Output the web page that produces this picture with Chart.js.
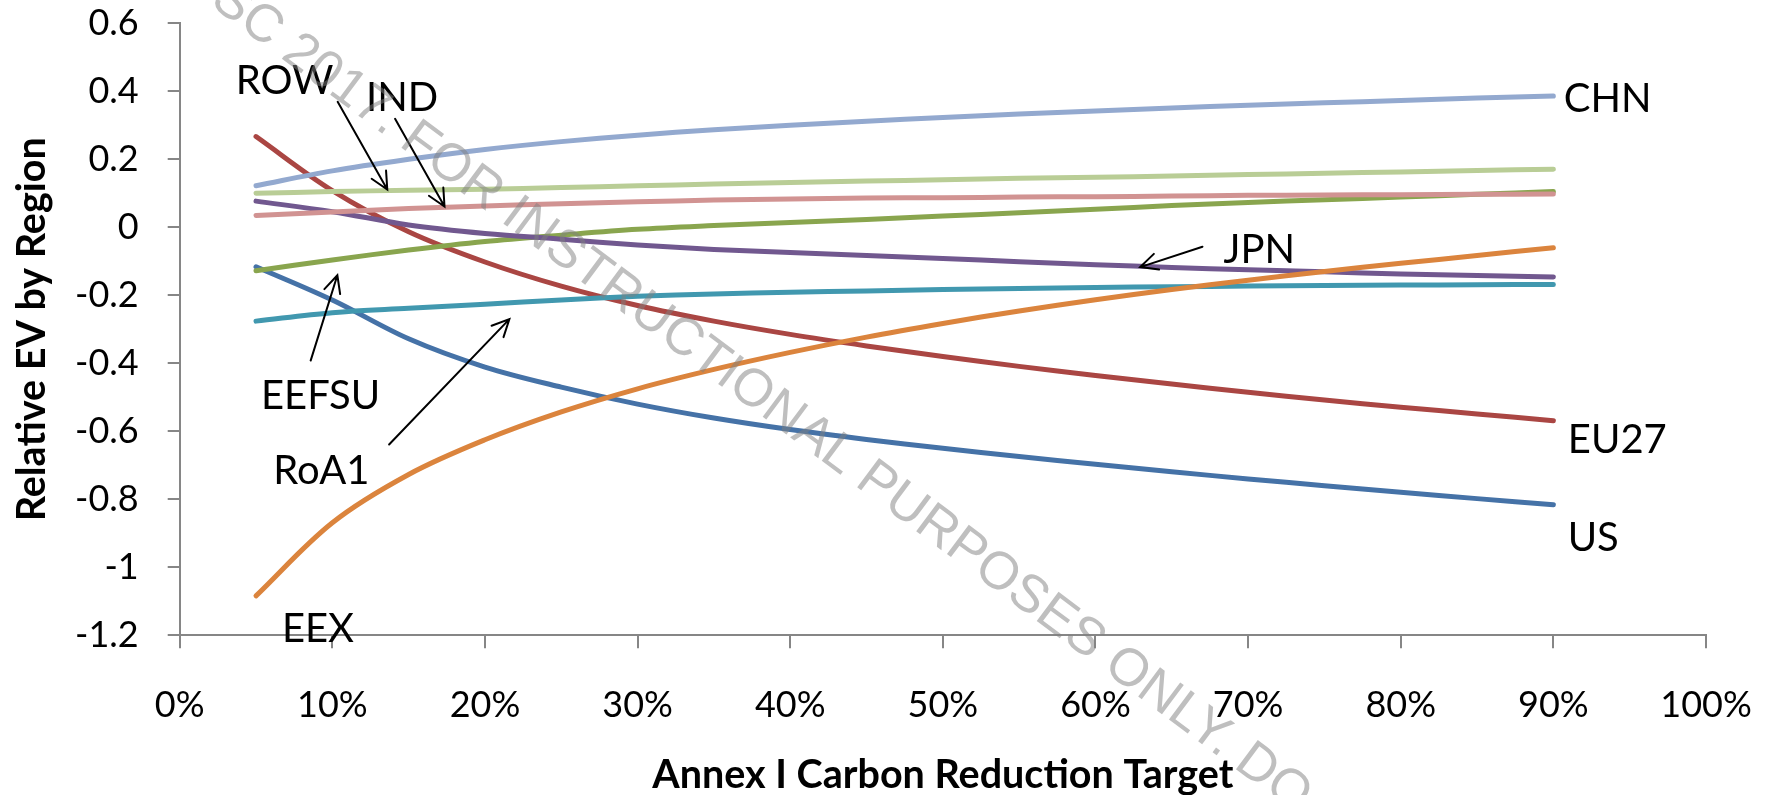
<!DOCTYPE html>
<html><head><meta charset="utf-8">
<script src="https://cdn.jsdelivr.net/npm/chart.js@4.4.1/dist/chart.umd.min.js"></script>
<style>html,body{margin:0;padding:0;background:#fff;overflow:hidden}#wrap{width:1770px;height:795px;position:relative}</style>
</head><body><div id="wrap"><canvas id="c" width="1770" height="795"></canvas></div>
<script>
// ---- data ----
const targets = [5, 10, 15, 20, 25, 30, 35, 40, 45, 50, 55, 60, 65, 70, 75, 80, 85, 90];
const US    = [-0.116, -0.214, -0.328, -0.411, -0.470, -0.520, -0.561, -0.595, -0.624, -0.650, -0.674, -0.697, -0.719, -0.740, -0.760, -0.779, -0.798, -0.816];
const EU27  = [0.267, 0.108, -0.013, -0.102, -0.173, -0.230, -0.276, -0.315, -0.349, -0.380, -0.409, -0.436, -0.461, -0.485, -0.508, -0.529, -0.549, -0.569];
const EEFSU = [-0.128, -0.096, -0.067, -0.042, -0.023, -0.006, 0.005, 0.014, 0.023, 0.033, 0.043, 0.053, 0.064, 0.073, 0.081, 0.089, 0.097, 0.105];
const JPN   = [0.077, 0.046, 0.007, -0.018, -0.035, -0.052, -0.065, -0.074, -0.083, -0.092, -0.101, -0.110, -0.118, -0.125, -0.131, -0.137, -0.142, -0.146];
const RoA1  = [-0.276, -0.251, -0.238, -0.226, -0.214, -0.203, -0.196, -0.191, -0.187, -0.183, -0.180, -0.177, -0.175, -0.173, -0.171, -0.170, -0.169, -0.168];
const EEX   = [-1.084, -0.869, -0.727, -0.625, -0.543, -0.475, -0.418, -0.368, -0.323, -0.283, -0.246, -0.213, -0.183, -0.156, -0.130, -0.106, -0.083, -0.060];
const CHN   = [0.122, 0.166, 0.200, 0.229, 0.252, 0.271, 0.287, 0.300, 0.312, 0.323, 0.333, 0.342, 0.351, 0.359, 0.366, 0.373, 0.380, 0.386];
const IND   = [0.035, 0.045, 0.055, 0.063, 0.069, 0.075, 0.080, 0.083, 0.086, 0.087, 0.089, 0.090, 0.092, 0.094, 0.095, 0.096, 0.097, 0.098];
const ROW   = [0.100, 0.105, 0.109, 0.112, 0.117, 0.122, 0.127, 0.132, 0.136, 0.140, 0.144, 0.147, 0.151, 0.155, 0.159, 0.163, 0.167, 0.171];

const seriesNames = ['US', 'EU27', 'EEFSU', 'JPN', 'RoA1', 'EEX', 'CHN', 'IND', 'ROW'];
const seriesValues = [US, EU27, EEFSU, JPN, RoA1, EEX, CHN, IND, ROW];
const seriesColors = ['#4572A7', '#AA4643', '#89A54E', '#71588F', '#4198AF', '#DB843D', '#93A9CF', '#D19392', '#B9CD96'];

const xTitle = 'Annex I Carbon Reduction Target';
const yTitle = 'Relative EV by Region';
const watermarkText = 'SC 2017. FOR INSTRUCTIONAL PURPOSES ONLY. DO';

// annotation labels (data coordinates: x = % target, y = value)
const labelTexts = ['ROW', 'IND', 'CHN', 'JPN', 'EU27', 'US', 'EEFSU', 'RoA1', 'EEX'];
const labelX     = [6.87, 14.57, 93.56, 70.73, 94.19, 92.61, 9.23, 9.28, 9.06];
const labelY     = [0.435, 0.386, 0.383, -0.061, -0.619, -0.908, -0.490, -0.711, -1.176];
// arrows: from (x1,y1) to tip (x2,y2)
const arrowFromX = [10.35, 14.11, 67.01, 8.58, 13.72];
const arrowFromY = [0.369, 0.319, -0.057, -0.392, -0.639];
const arrowToX   = [13.60, 17.35, 62.93, 10.33, 21.60];
const arrowToY   = [0.111, 0.061, -0.117, -0.141, -0.270];

// ---- chart ----
const datasets = seriesNames.map((name, i) => ({
  label: name,
  data: targets.map((t, j) => ({ x: t, y: seriesValues[i][j] })),
  borderColor: seriesColors[i],
  backgroundColor: seriesColors[i],
  borderWidth: 5,
  pointRadius: 0,
  pointHoverRadius: 0,
  tension: 0.35,
  borderCapStyle: 'round',
  borderJoinStyle: 'round',
  fill: false,
  order: seriesNames.length - i
}));

const annotate = {
  id: 'annotate',
  afterDraw(chart) {
    const ctx = chart.ctx, xs = chart.scales.x, ys = chart.scales.y;
    ctx.save();
    // arrows
    ctx.strokeStyle = '#000';
    ctx.lineWidth = 2;
    ctx.lineCap = 'round';
    for (let i = 0; i < arrowFromX.length; i++) {
      const x1 = xs.getPixelForValue(arrowFromX[i]), y1 = ys.getPixelForValue(arrowFromY[i]);
      const x2 = xs.getPixelForValue(arrowToX[i]), y2 = ys.getPixelForValue(arrowToY[i]);
      const a = Math.atan2(y2 - y1, x2 - x1), L = 19, w = 0.45;
      ctx.beginPath();
      ctx.moveTo(x1, y1); ctx.lineTo(x2, y2);
      ctx.moveTo(x2 - L * Math.cos(a - w), y2 - L * Math.sin(a - w));
      ctx.lineTo(x2, y2);
      ctx.lineTo(x2 - L * Math.cos(a + w), y2 - L * Math.sin(a + w));
      ctx.stroke();
    }
    // labels
    ctx.fillStyle = '#000';
    ctx.font = '40px Lato';
    ctx.textAlign = 'center';
    ctx.textBaseline = 'middle';
    for (let i = 0; i < labelTexts.length; i++) {
      ctx.fillText(labelTexts[i], xs.getPixelForValue(labelX[i]), ys.getPixelForValue(labelY[i]) + 2);
    }
    // watermark
    const fs = 53;
    ctx.font = fs + 'px "Liberation Sans"';
    ctx.fillStyle = 'rgba(128,128,128,0.5)';
    ctx.textAlign = 'left';
    ctx.textBaseline = 'alphabetic';
    ctx.translate(516.7, 210);
    ctx.rotate(Math.atan(0.745));
    const pre = ctx.measureText('SC 2017. FOR ').width + ctx.measureText('I').width / 2;
    ctx.fillText(watermarkText, -pre, 0.358 * fs);
    ctx.restore();
  }
};

new Chart(document.getElementById('c'), {
  type: 'line',
  data: { datasets },
  options: {
    responsive: false,
    animation: false,
    devicePixelRatio: 1,
    events: [],
    layout: { padding: { top: 23.3, right: 64, bottom: 0, left: 0 } },
    plugins: { legend: { display: false }, tooltip: { enabled: false } },
    scales: {
      x: {
        type: 'linear', min: 0, max: 100,
        afterFit(s) { s.height = 159.7; s.paddingLeft = 0; s.paddingRight = 0; },
        ticks: { stepSize: 10, color: '#000', padding: 35, font: { family: 'Lato', size: 36 },
                 callback: v => v + '%' },
        grid: { display: true, drawOnChartArea: false, drawTicks: true, tickLength: 13, color: '#868686', lineWidth: 2 },
        border: { display: true, color: '#868686', width: 2 },
        title: { display: true, text: xTitle, color: '#000', padding: { top: 0, bottom: 0 },
                 font: { family: 'Lato', size: 39.5, weight: 'bold', lineHeight: 1 } }
      },
      y: {
        type: 'linear', min: -1.2, max: 0.6,
        afterFit(s) { s.width = 179.7; s.paddingTop = 0; s.paddingBottom = 0; },
        ticks: { stepSize: 0.2, color: '#000', padding: 29, font: { family: 'Lato', size: 36 },
                 callback: v => String(Number(v.toFixed(1)) + 0) },
        grid: { display: true, drawOnChartArea: false, drawTicks: true, tickLength: 12, color: '#868686', lineWidth: 2 },
        border: { display: true, color: '#868686', width: 2 },
        title: { display: true, text: yTitle, color: '#000', padding: { top: 13, bottom: 0 },
                 font: { family: 'Lato', size: 39.5, weight: 'bold', lineHeight: 1 } }
      }
    }
  },
  plugins: [annotate]
});
</script></body></html>
